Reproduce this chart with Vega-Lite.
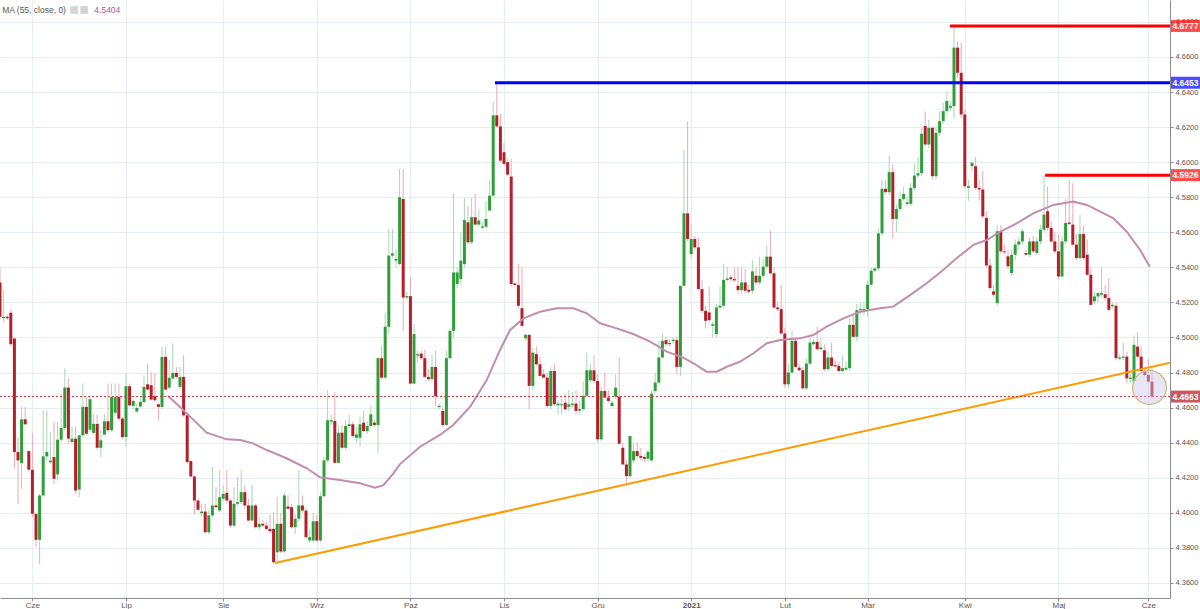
{
"$schema":"https://vega.github.io/schema/vega-lite/v6.json",
"width":1170,"height":598,"padding":{"left":0,"top":0,"right":30,"bottom":11},"autosize":{"type":"none"},"background":"white",
"config":{"font":"Liberation Sans","view":{"stroke":null},"axis":{"labelOverlap":false,"labelBound":false,"labelFlush":false}},
"datasets":{
"candles":[
{"i":0,"o":4.5314,"h":4.5404,"l":4.5109,"c":4.5118},
{"i":1,"o":4.511,"h":4.527,"l":4.509,"c":4.5118},
{"i":2,"o":4.5118,"h":4.513,"l":4.51,"c":4.511},
{"i":3,"o":4.5141,"h":4.516,"l":4.495,"c":4.4962},
{"i":4,"o":4.4994,"h":4.5,"l":4.4251,"c":4.4347},
{"i":5,"o":4.4347,"h":4.4432,"l":4.4051,"c":4.4299},
{"i":6,"o":4.4284,"h":4.4604,"l":4.4136,"c":4.4533},
{"i":7,"o":4.4533,"h":4.4604,"l":4.45,"c":4.4505},
{"i":8,"o":4.4352,"h":4.4356,"l":4.424,"c":4.4246},
{"i":9,"o":4.4246,"h":4.4455,"l":4.3975,"c":4.3994},
{"i":10,"o":4.3994,"h":4.4,"l":4.3804,"c":4.3846},
{"i":11,"o":4.3846,"h":4.4108,"l":4.3708,"c":4.4099},
{"i":12,"o":4.4099,"h":4.4585,"l":4.409,"c":4.4322},
{"i":13,"o":4.4322,"h":4.4585,"l":4.43,"c":4.4347},
{"i":14,"o":4.4288,"h":4.4461,"l":4.428,"c":4.4298},
{"i":15,"o":4.4318,"h":4.4518,"l":4.4165,"c":4.4194},
{"i":16,"o":4.4219,"h":4.4518,"l":4.4185,"c":4.4417},
{"i":17,"o":4.4417,"h":4.468,"l":4.44,"c":4.4484},
{"i":18,"o":4.4484,"h":4.4823,"l":4.447,"c":4.4714},
{"i":19,"o":4.4714,"h":4.4766,"l":4.4395,"c":4.4423},
{"i":20,"o":4.4404,"h":4.449,"l":4.4395,"c":4.4423},
{"i":21,"o":4.4423,"h":4.449,"l":4.4108,"c":4.4127},
{"i":22,"o":4.4133,"h":4.4442,"l":4.4089,"c":4.4442},
{"i":23,"o":4.4442,"h":4.4737,"l":4.443,"c":4.4604},
{"i":24,"o":4.4604,"h":4.4661,"l":4.444,"c":4.4451},
{"i":25,"o":4.4474,"h":4.4665,"l":4.446,"c":4.4648},
{"i":26,"o":4.4456,"h":4.456,"l":4.445,"c":4.4507},
{"i":27,"o":4.4507,"h":4.456,"l":4.436,"c":4.4371},
{"i":28,"o":4.4371,"h":4.447,"l":4.4318,"c":4.4413},
{"i":29,"o":4.4446,"h":4.4564,"l":4.4442,"c":4.4522},
{"i":30,"o":4.4522,"h":4.4737,"l":4.4461,"c":4.4471},
{"i":31,"o":4.4471,"h":4.4737,"l":4.4461,"c":4.466},
{"i":32,"o":4.4571,"h":4.4737,"l":4.4556,"c":4.466},
{"i":33,"o":4.466,"h":4.4737,"l":4.4528,"c":4.4537},
{"i":34,"o":4.4537,"h":4.4547,"l":4.4423,"c":4.4432},
{"i":35,"o":4.4432,"h":4.4795,"l":4.4375,"c":4.4722},
{"i":36,"o":4.4722,"h":4.4737,"l":4.4604,"c":4.4613},
{"i":37,"o":4.461,"h":4.465,"l":4.459,"c":4.4638},
{"i":38,"o":4.4578,"h":4.462,"l":4.457,"c":4.4598},
{"i":39,"o":4.4606,"h":4.466,"l":4.46,"c":4.4632},
{"i":40,"o":4.4632,"h":4.4785,"l":4.4623,"c":4.4718},
{"i":41,"o":4.4733,"h":4.4852,"l":4.4699,"c":4.4703},
{"i":42,"o":4.4728,"h":4.4804,"l":4.4642,"c":4.4646},
{"i":43,"o":4.4665,"h":4.4795,"l":4.4632,"c":4.4642},
{"i":44,"o":4.4619,"h":4.4623,"l":4.4526,"c":4.4604},
{"i":45,"o":4.4604,"h":4.4947,"l":4.4594,"c":4.4889},
{"i":46,"o":4.4889,"h":4.4947,"l":4.4699,"c":4.4703},
{"i":47,"o":4.4714,"h":4.487,"l":4.4709,"c":4.477},
{"i":48,"o":4.4766,"h":4.4966,"l":4.476,"c":4.4798},
{"i":49,"o":4.4798,"h":4.4833,"l":4.4766,"c":4.4775},
{"i":50,"o":4.4718,"h":4.4833,"l":4.4709,"c":4.4775},
{"i":51,"o":4.4775,"h":4.4899,"l":4.4547,"c":4.4556},
{"i":52,"o":4.4556,"h":4.4566,"l":4.428,"c":4.4289},
{"i":53,"o":4.4295,"h":4.4299,"l":4.4204,"c":4.4207},
{"i":54,"o":4.4207,"h":4.4213,"l":4.3994,"c":4.407},
{"i":55,"o":4.407,"h":4.408,"l":4.4013,"c":4.4017},
{"i":56,"o":4.3998,"h":4.405,"l":4.398,"c":4.4007},
{"i":57,"o":4.4007,"h":4.4051,"l":4.3885,"c":4.3889},
{"i":58,"o":4.3889,"h":4.4013,"l":4.388,"c":4.3985},
{"i":59,"o":4.3985,"h":4.4261,"l":4.3975,"c":4.4042},
{"i":60,"o":4.4042,"h":4.4147,"l":4.4023,"c":4.4032},
{"i":61,"o":4.4013,"h":4.4242,"l":4.4004,"c":4.4089},
{"i":62,"o":4.408,"h":4.4156,"l":4.407,"c":4.4108},
{"i":63,"o":4.4114,"h":4.4242,"l":4.406,"c":4.407},
{"i":64,"o":4.407,"h":4.408,"l":4.3918,"c":4.3927},
{"i":65,"o":4.3927,"h":4.4147,"l":4.3918,"c":4.4051},
{"i":66,"o":4.4051,"h":4.4204,"l":4.404,"c":4.4061},
{"i":67,"o":4.4061,"h":4.4242,"l":4.405,"c":4.4118},
{"i":68,"o":4.4118,"h":4.4156,"l":4.4023,"c":4.4042},
{"i":69,"o":4.4042,"h":4.408,"l":4.395,"c":4.3956},
{"i":70,"o":4.3956,"h":4.416,"l":4.395,"c":4.4042},
{"i":71,"o":4.4042,"h":4.405,"l":4.391,"c":4.3918},
{"i":72,"o":4.3918,"h":4.3975,"l":4.39,"c":4.3937},
{"i":73,"o":4.3937,"h":4.396,"l":4.392,"c":4.3927},
{"i":74,"o":4.3927,"h":4.395,"l":4.39,"c":4.3908},
{"i":75,"o":4.3908,"h":4.399,"l":4.388,"c":4.3895},
{"i":76,"o":4.3908,"h":4.4004,"l":4.3708,"c":4.3718},
{"i":77,"o":4.3775,"h":4.4089,"l":4.3708,"c":4.3937},
{"i":78,"o":4.3937,"h":4.4,"l":4.377,"c":4.3779},
{"i":79,"o":4.3779,"h":4.4118,"l":4.377,"c":4.4099},
{"i":80,"o":4.4036,"h":4.41,"l":4.402,"c":4.4023},
{"i":81,"o":4.4032,"h":4.405,"l":4.391,"c":4.3918},
{"i":82,"o":4.3918,"h":4.399,"l":4.388,"c":4.3966},
{"i":83,"o":4.3966,"h":4.4242,"l":4.395,"c":4.4042},
{"i":84,"o":4.4042,"h":4.41,"l":4.4,"c":4.4013},
{"i":85,"o":4.4013,"h":4.4032,"l":4.385,"c":4.3861},
{"i":86,"o":4.3842,"h":4.39,"l":4.383,"c":4.3861},
{"i":87,"o":4.3842,"h":4.4,"l":4.3832,"c":4.3952},
{"i":88,"o":4.3952,"h":4.399,"l":4.3832,"c":4.3842},
{"i":89,"o":4.3842,"h":4.4118,"l":4.3832,"c":4.4095},
{"i":90,"o":4.4095,"h":4.4318,"l":4.4089,"c":4.4299},
{"i":91,"o":4.4299,"h":4.4699,"l":4.429,"c":4.4528},
{"i":92,"o":4.452,"h":4.456,"l":4.45,"c":4.4528},
{"i":93,"o":4.4524,"h":4.469,"l":4.428,"c":4.4285},
{"i":94,"o":4.4285,"h":4.45,"l":4.428,"c":4.4457},
{"i":95,"o":4.4457,"h":4.45,"l":4.436,"c":4.4371},
{"i":96,"o":4.4371,"h":4.453,"l":4.436,"c":4.4495},
{"i":97,"o":4.4495,"h":4.456,"l":4.448,"c":4.4505},
{"i":98,"o":4.4505,"h":4.452,"l":4.443,"c":4.4438},
{"i":99,"o":4.4428,"h":4.449,"l":4.44,"c":4.4447},
{"i":100,"o":4.4428,"h":4.455,"l":4.438,"c":4.4505},
{"i":101,"o":4.4514,"h":4.458,"l":4.446,"c":4.4466},
{"i":102,"o":4.4466,"h":4.452,"l":4.445,"c":4.4495},
{"i":103,"o":4.4495,"h":4.461,"l":4.449,"c":4.4562},
{"i":104,"o":4.4514,"h":4.453,"l":4.449,"c":4.4501},
{"i":105,"o":4.4501,"h":4.4886,"l":4.4343,"c":4.4882},
{"i":106,"o":4.4882,"h":4.495,"l":4.476,"c":4.4771},
{"i":107,"o":4.4771,"h":4.5143,"l":4.476,"c":4.5061},
{"i":108,"o":4.5061,"h":4.5619,"l":4.502,"c":4.5467},
{"i":109,"o":4.5467,"h":4.5619,"l":4.545,"c":4.548},
{"i":110,"o":4.5438,"h":4.55,"l":4.54,"c":4.5448},
{"i":111,"o":4.5419,"h":4.5962,"l":4.541,"c":4.58},
{"i":112,"o":4.579,"h":4.5962,"l":4.5038,"c":4.5228},
{"i":113,"o":4.5228,"h":4.526,"l":4.521,"c":4.5236},
{"i":114,"o":4.5236,"h":4.5343,"l":4.4733,"c":4.4737},
{"i":115,"o":4.4737,"h":4.5076,"l":4.4733,"c":4.5019},
{"i":116,"o":4.4897,"h":4.4924,"l":4.486,"c":4.4905},
{"i":117,"o":4.4908,"h":4.4924,"l":4.487,"c":4.4882},
{"i":118,"o":4.4882,"h":4.493,"l":4.477,"c":4.4775},
{"i":119,"o":4.4775,"h":4.482,"l":4.475,"c":4.4762},
{"i":120,"o":4.4762,"h":4.49,"l":4.475,"c":4.4832},
{"i":121,"o":4.4832,"h":4.4924,"l":4.461,"c":4.4666},
{"i":122,"o":4.4603,"h":4.462,"l":4.459,"c":4.461},
{"i":123,"o":4.4581,"h":4.46,"l":4.449,"c":4.4501},
{"i":124,"o":4.4501,"h":4.4924,"l":4.4496,"c":4.4882},
{"i":125,"o":4.4882,"h":4.505,"l":4.488,"c":4.5038},
{"i":126,"o":4.5038,"h":4.5819,"l":4.5,"c":4.5371},
{"i":127,"o":4.5305,"h":4.54,"l":4.528,"c":4.5371},
{"i":128,"o":4.5333,"h":4.56,"l":4.53,"c":4.5438},
{"i":129,"o":4.5419,"h":4.5795,"l":4.54,"c":4.567},
{"i":130,"o":4.5657,"h":4.575,"l":4.553,"c":4.5543},
{"i":131,"o":4.5543,"h":4.5795,"l":4.553,"c":4.5686},
{"i":132,"o":4.5686,"h":4.5819,"l":4.564,"c":4.5644},
{"i":133,"o":4.5644,"h":4.573,"l":4.5635,"c":4.5667},
{"i":134,"o":4.5626,"h":4.566,"l":4.562,"c":4.5634},
{"i":135,"o":4.5632,"h":4.578,"l":4.5625,"c":4.5676},
{"i":136,"o":4.5724,"h":4.59,"l":4.572,"c":4.5809},
{"i":137,"o":4.5809,"h":4.6343,"l":4.58,"c":4.6267},
{"i":138,"o":4.6267,"h":4.6453,"l":4.62,"c":4.6204},
{"i":139,"o":4.6204,"h":4.6276,"l":4.6,"c":4.6009},
{"i":140,"o":4.6057,"h":4.611,"l":4.598,"c":4.599},
{"i":141,"o":4.6,"h":4.6019,"l":4.592,"c":4.5929},
{"i":142,"o":4.5918,"h":4.6019,"l":4.529,"c":4.5305},
{"i":143,"o":4.5308,"h":4.5312,"l":4.5295,"c":4.5299},
{"i":144,"o":4.5299,"h":4.5419,"l":4.517,"c":4.5181},
{"i":145,"o":4.5167,"h":4.54,"l":4.506,"c":4.5067},
{"i":146,"o":4.4995,"h":4.502,"l":4.498,"c":4.5015},
{"i":147,"o":4.5015,"h":4.502,"l":4.459,"c":4.4724},
{"i":148,"o":4.4724,"h":4.494,"l":4.47,"c":4.4914},
{"i":149,"o":4.4905,"h":4.495,"l":4.484,"c":4.4847},
{"i":150,"o":4.4847,"h":4.489,"l":4.478,"c":4.4781},
{"i":151,"o":4.479,"h":4.482,"l":4.4765,"c":4.4771},
{"i":152,"o":4.4771,"h":4.48,"l":4.46,"c":4.4609},
{"i":153,"o":4.4609,"h":4.483,"l":4.459,"c":4.4809},
{"i":154,"o":4.4809,"h":4.485,"l":4.461,"c":4.4619},
{"i":155,"o":4.4613,"h":4.464,"l":4.456,"c":4.4623},
{"i":156,"o":4.4613,"h":4.465,"l":4.456,"c":4.4619},
{"i":157,"o":4.4628,"h":4.468,"l":4.4585,"c":4.459},
{"i":158,"o":4.4604,"h":4.47,"l":4.458,"c":4.4619},
{"i":159,"o":4.4614,"h":4.469,"l":4.46,"c":4.4623},
{"i":160,"o":4.4623,"h":4.47,"l":4.456,"c":4.4581},
{"i":161,"o":4.4583,"h":4.464,"l":4.456,"c":4.4592},
{"i":162,"o":4.4592,"h":4.475,"l":4.458,"c":4.4667},
{"i":163,"o":4.4667,"h":4.4914,"l":4.466,"c":4.4813},
{"i":164,"o":4.4756,"h":4.485,"l":4.474,"c":4.4813},
{"i":165,"o":4.4813,"h":4.49,"l":4.474,"c":4.4752},
{"i":166,"o":4.4752,"h":4.479,"l":4.44,"c":4.4419},
{"i":167,"o":4.4419,"h":4.472,"l":4.441,"c":4.4695},
{"i":168,"o":4.4695,"h":4.48,"l":4.465,"c":4.4657},
{"i":169,"o":4.4657,"h":4.47,"l":4.463,"c":4.4638},
{"i":170,"o":4.4609,"h":4.464,"l":4.46,"c":4.4628},
{"i":171,"o":4.4663,"h":4.479,"l":4.465,"c":4.4714},
{"i":172,"o":4.4663,"h":4.4886,"l":4.439,"c":4.4394},
{"i":173,"o":4.4371,"h":4.44,"l":4.427,"c":4.4276},
{"i":174,"o":4.4276,"h":4.43,"l":4.4162,"c":4.4209},
{"i":175,"o":4.4209,"h":4.4438,"l":4.42,"c":4.4438},
{"i":176,"o":4.4299,"h":4.44,"l":4.428,"c":4.4352},
{"i":177,"o":4.4352,"h":4.44,"l":4.431,"c":4.4324},
{"i":178,"o":4.4324,"h":4.437,"l":4.43,"c":4.4314},
{"i":179,"o":4.4318,"h":4.433,"l":4.429,"c":4.4308},
{"i":180,"o":4.4308,"h":4.436,"l":4.429,"c":4.4348},
{"i":181,"o":4.4299,"h":4.47,"l":4.429,"c":4.468},
{"i":182,"o":4.4695,"h":4.48,"l":4.468,"c":4.4743},
{"i":183,"o":4.4743,"h":4.498,"l":4.473,"c":4.4886},
{"i":184,"o":4.4886,"h":4.502,"l":4.488,"c":4.4981},
{"i":185,"o":4.4985,"h":4.5002,"l":4.495,"c":4.4962},
{"i":186,"o":4.4968,"h":4.499,"l":4.495,"c":4.4962},
{"i":187,"o":4.4979,"h":4.5,"l":4.497,"c":4.4987},
{"i":188,"o":4.4985,"h":4.5002,"l":4.479,"c":4.4832},
{"i":189,"o":4.4832,"h":4.5076,"l":4.478,"c":4.5295},
{"i":190,"o":4.5295,"h":4.607,"l":4.529,"c":4.5708},
{"i":191,"o":4.5708,"h":4.6231,"l":4.555,"c":4.5562},
{"i":192,"o":4.5476,"h":4.565,"l":4.545,"c":4.5562},
{"i":193,"o":4.5562,"h":4.558,"l":4.55,"c":4.5514},
{"i":194,"o":4.5514,"h":4.557,"l":4.527,"c":4.5276},
{"i":195,"o":4.5276,"h":4.533,"l":4.514,"c":4.5152},
{"i":196,"o":4.5152,"h":4.518,"l":4.505,"c":4.5095},
{"i":197,"o":4.5143,"h":4.529,"l":4.509,"c":4.5099},
{"i":198,"o":4.5067,"h":4.509,"l":4.5,"c":4.5076},
{"i":199,"o":4.5019,"h":4.519,"l":4.5,"c":4.5171},
{"i":200,"o":4.5171,"h":4.529,"l":4.516,"c":4.5181},
{"i":201,"o":4.5181,"h":4.542,"l":4.517,"c":4.5328},
{"i":202,"o":4.5328,"h":4.54,"l":4.532,"c":4.5336},
{"i":203,"o":4.5343,"h":4.536,"l":4.532,"c":4.5333},
{"i":204,"o":4.5333,"h":4.54,"l":4.532,"c":4.5326},
{"i":205,"o":4.5295,"h":4.54,"l":4.525,"c":4.527},
{"i":206,"o":4.527,"h":4.54,"l":4.525,"c":4.5314},
{"i":207,"o":4.5314,"h":4.539,"l":4.525,"c":4.5267},
{"i":208,"o":4.5272,"h":4.53,"l":4.525,"c":4.5261},
{"i":209,"o":4.5267,"h":4.544,"l":4.525,"c":4.5377},
{"i":210,"o":4.5352,"h":4.54,"l":4.53,"c":4.5314},
{"i":211,"o":4.5314,"h":4.546,"l":4.53,"c":4.5352},
{"i":212,"o":4.5352,"h":4.545,"l":4.534,"c":4.5404},
{"i":213,"o":4.5404,"h":4.552,"l":4.539,"c":4.5461},
{"i":214,"o":4.5461,"h":4.5609,"l":4.536,"c":4.5366},
{"i":215,"o":4.5366,"h":4.54,"l":4.516,"c":4.5171},
{"i":216,"o":4.5171,"h":4.52,"l":4.515,"c":4.5162},
{"i":217,"o":4.5162,"h":4.53,"l":4.502,"c":4.5023},
{"i":218,"o":4.5023,"h":4.5057,"l":4.4714,"c":4.4733},
{"i":219,"o":4.4733,"h":4.485,"l":4.471,"c":4.48},
{"i":220,"o":4.48,"h":4.5038,"l":4.479,"c":4.4981},
{"i":221,"o":4.4981,"h":4.5,"l":4.483,"c":4.4832},
{"i":222,"o":4.4828,"h":4.485,"l":4.481,"c":4.4813},
{"i":223,"o":4.4813,"h":4.483,"l":4.47,"c":4.471},
{"i":224,"o":4.471,"h":4.488,"l":4.47,"c":4.4851},
{"i":225,"o":4.4851,"h":4.5,"l":4.484,"c":4.4971},
{"i":226,"o":4.4962,"h":4.499,"l":4.495,"c":4.4975},
{"i":227,"o":4.4975,"h":4.506,"l":4.493,"c":4.4933},
{"i":228,"o":4.4933,"h":4.5,"l":4.492,"c":4.4943},
{"i":229,"o":4.4927,"h":4.496,"l":4.481,"c":4.4819},
{"i":230,"o":4.4819,"h":4.492,"l":4.481,"c":4.4886},
{"i":231,"o":4.4886,"h":4.497,"l":4.483,"c":4.4838},
{"i":232,"o":4.4842,"h":4.487,"l":4.483,"c":4.4835},
{"i":233,"o":4.4838,"h":4.486,"l":4.48,"c":4.4809},
{"i":234,"o":4.4809,"h":4.49,"l":4.48,"c":4.4825},
{"i":235,"o":4.4817,"h":4.486,"l":4.481,"c":4.4827},
{"i":236,"o":4.4825,"h":4.511,"l":4.481,"c":4.5072},
{"i":237,"o":4.5072,"h":4.513,"l":4.5,"c":4.5004},
{"i":238,"o":4.5004,"h":4.519,"l":4.498,"c":4.5156},
{"i":239,"o":4.5156,"h":4.52,"l":4.513,"c":4.5162},
{"i":240,"o":4.5152,"h":4.52,"l":4.513,"c":4.5162},
{"i":241,"o":4.5162,"h":4.532,"l":4.512,"c":4.5301},
{"i":242,"o":4.5301,"h":4.54,"l":4.529,"c":4.5381},
{"i":243,"o":4.5381,"h":4.54,"l":4.537,"c":4.5394},
{"i":244,"o":4.5394,"h":4.562,"l":4.538,"c":4.5594},
{"i":245,"o":4.5594,"h":4.59,"l":4.558,"c":4.5848},
{"i":246,"o":4.5848,"h":4.59,"l":4.582,"c":4.5829},
{"i":247,"o":4.5829,"h":4.6038,"l":4.581,"c":4.5943},
{"i":248,"o":4.5943,"h":4.599,"l":4.5562,"c":4.5676},
{"i":249,"o":4.5676,"h":4.576,"l":4.56,"c":4.5733},
{"i":250,"o":4.5733,"h":4.583,"l":4.572,"c":4.579},
{"i":251,"o":4.579,"h":4.586,"l":4.578,"c":4.5819},
{"i":252,"o":4.5762,"h":4.58,"l":4.575,"c":4.5771},
{"i":253,"o":4.5762,"h":4.588,"l":4.575,"c":4.5853},
{"i":254,"o":4.5853,"h":4.599,"l":4.584,"c":4.5924},
{"i":255,"o":4.5924,"h":4.603,"l":4.591,"c":4.5937},
{"i":256,"o":4.5937,"h":4.62,"l":4.592,"c":4.6162},
{"i":257,"o":4.6206,"h":4.629,"l":4.609,"c":4.6101},
{"i":258,"o":4.6101,"h":4.624,"l":4.608,"c":4.6196},
{"i":259,"o":4.6196,"h":4.62,"l":4.59,"c":4.592},
{"i":260,"o":4.592,"h":4.62,"l":4.59,"c":4.6168},
{"i":261,"o":4.6168,"h":4.629,"l":4.615,"c":4.6234},
{"i":262,"o":4.6234,"h":4.634,"l":4.622,"c":4.6291},
{"i":263,"o":4.6291,"h":4.64,"l":4.628,"c":4.6349},
{"i":264,"o":4.631,"h":4.635,"l":4.629,"c":4.632},
{"i":265,"o":4.632,"h":4.6777,"l":4.625,"c":4.6653},
{"i":266,"o":4.6653,"h":4.669,"l":4.648,"c":4.651},
{"i":267,"o":4.651,"h":4.6682,"l":4.625,"c":4.6272},
{"i":268,"o":4.6272,"h":4.63,"l":4.585,"c":4.5863},
{"i":269,"o":4.5853,"h":4.59,"l":4.578,"c":4.5863},
{"i":270,"o":4.5977,"h":4.6,"l":4.595,"c":4.5996},
{"i":271,"o":4.5977,"h":4.603,"l":4.584,"c":4.5853},
{"i":272,"o":4.5853,"h":4.59,"l":4.578,"c":4.5844},
{"i":273,"o":4.5844,"h":4.595,"l":4.568,"c":4.5691},
{"i":274,"o":4.5682,"h":4.572,"l":4.54,"c":4.5411},
{"i":275,"o":4.5411,"h":4.545,"l":4.527,"c":4.5282},
{"i":276,"o":4.5263,"h":4.53,"l":4.523,"c":4.5244},
{"i":277,"o":4.5196,"h":4.564,"l":4.518,"c":4.5606},
{"i":278,"o":4.5606,"h":4.564,"l":4.548,"c":4.5491},
{"i":279,"o":4.5491,"h":4.553,"l":4.547,"c":4.5486},
{"i":280,"o":4.5463,"h":4.55,"l":4.539,"c":4.5406},
{"i":281,"o":4.5367,"h":4.55,"l":4.535,"c":4.5472},
{"i":282,"o":4.5472,"h":4.556,"l":4.544,"c":4.553},
{"i":283,"o":4.553,"h":4.557,"l":4.55,"c":4.5548},
{"i":284,"o":4.5548,"h":4.562,"l":4.553,"c":4.5606},
{"i":285,"o":4.5482,"h":4.55,"l":4.547,"c":4.5472},
{"i":286,"o":4.5472,"h":4.557,"l":4.546,"c":4.5548},
{"i":287,"o":4.5548,"h":4.558,"l":4.548,"c":4.5491},
{"i":288,"o":4.5482,"h":4.557,"l":4.547,"c":4.5548},
{"i":289,"o":4.5548,"h":4.564,"l":4.553,"c":4.5615},
{"i":290,"o":4.5615,"h":4.5926,"l":4.56,"c":4.5701},
{"i":291,"o":4.572,"h":4.586,"l":4.561,"c":4.5625},
{"i":292,"o":4.5625,"h":4.566,"l":4.554,"c":4.5548},
{"i":293,"o":4.5548,"h":4.56,"l":4.548,"c":4.5491},
{"i":294,"o":4.5491,"h":4.559,"l":4.533,"c":4.5348},
{"i":295,"o":4.5348,"h":4.558,"l":4.534,"c":4.5548},
{"i":296,"o":4.5548,"h":4.579,"l":4.553,"c":4.5653},
{"i":297,"o":4.5656,"h":4.59,"l":4.564,"c":4.5648},
{"i":298,"o":4.5644,"h":4.588,"l":4.552,"c":4.553},
{"i":299,"o":4.553,"h":4.559,"l":4.544,"c":4.5453},
{"i":300,"o":4.5453,"h":4.57,"l":4.544,"c":4.559},
{"i":301,"o":4.559,"h":4.564,"l":4.544,"c":4.5453},
{"i":302,"o":4.5472,"h":4.556,"l":4.535,"c":4.5358},
{"i":303,"o":4.5358,"h":4.54,"l":4.518,"c":4.5186},
{"i":304,"o":4.5206,"h":4.526,"l":4.519,"c":4.5234},
{"i":305,"o":4.5234,"h":4.526,"l":4.52,"c":4.5253},
{"i":306,"o":4.5244,"h":4.54,"l":4.523,"c":4.5253},
{"i":307,"o":4.5247,"h":4.53,"l":4.521,"c":4.5225},
{"i":308,"o":4.5225,"h":4.534,"l":4.515,"c":4.5158},
{"i":309,"o":4.5178,"h":4.52,"l":4.517,"c":4.5186},
{"i":310,"o":4.5181,"h":4.52,"l":4.487,"c":4.4882},
{"i":311,"o":4.4879,"h":4.49,"l":4.487,"c":4.4886},
{"i":312,"o":4.4884,"h":4.497,"l":4.487,"c":4.4891},
{"i":313,"o":4.4891,"h":4.492,"l":4.474,"c":4.4767},
{"i":314,"o":4.4764,"h":4.48,"l":4.474,"c":4.4771},
{"i":315,"o":4.4752,"h":4.501,"l":4.474,"c":4.4958},
{"i":316,"o":4.4948,"h":4.503,"l":4.488,"c":4.4891},
{"i":317,"o":4.4891,"h":4.495,"l":4.48,"c":4.4809},
{"i":318,"o":4.4805,"h":4.483,"l":4.478,"c":4.4786},
{"i":319,"o":4.4786,"h":4.488,"l":4.474,"c":4.4748},
{"i":320,"o":4.4748,"h":4.483,"l":4.465,"c":4.4663}
],
"ma":[
{"i":46.7,"v":4.4666},{"i":51.9,"v":4.4567},{"i":57.4,"v":4.4457},{"i":63,"v":4.4419},{"i":66.7,"v":4.4415},{"i":70.3,"v":4.4396},{"i":74.1,"v":4.4358},{"i":79.6,"v":4.4311},{"i":85.2,"v":4.4254},{"i":88.9,"v":4.4202},{"i":94.4,"v":4.4187},{"i":100,"v":4.4168},{"i":104.2,"v":4.4143},{"i":106.5,"v":4.4158},{"i":109.3,"v":4.4225},{"i":111.1,"v":4.4278},{"i":116.7,"v":4.4377},{"i":122.2,"v":4.4444},{"i":125.9,"v":4.4501},{"i":130.6,"v":4.4605},{"i":135.2,"v":4.4757},{"i":138.9,"v":4.4929},{"i":141.7,"v":4.5043},{"i":145.4,"v":4.5109},{"i":150,"v":4.5147},{"i":154.6,"v":4.5167},{"i":159.3,"v":4.5167},{"i":163,"v":4.5138},{"i":166.7,"v":4.5081},{"i":171.3,"v":4.5052},{"i":175.9,"v":4.502},{"i":180.6,"v":4.4976},{"i":185.2,"v":4.4919},{"i":189.8,"v":4.4885},{"i":192.6,"v":4.4853},{"i":196.3,"v":4.4805},{"i":199.1,"v":4.4805},{"i":201.9,"v":4.4833},{"i":205.6,"v":4.4862},{"i":209.3,"v":4.491},{"i":213,"v":4.4967},{"i":216.7,"v":4.4986},{"i":222.2,"v":4.4995},{"i":225.9,"v":4.5014},{"i":229.6,"v":4.5062},{"i":234.3,"v":4.5109},{"i":238.9,"v":4.5147},{"i":244.4,"v":4.5167},{"i":248.1,"v":4.5176},{"i":252.8,"v":4.5242},{"i":257.4,"v":4.5309},{"i":262,"v":4.5385},{"i":265.7,"v":4.5452},{"i":270.4,"v":4.5528},{"i":274.1,"v":4.5556},{"i":277.8,"v":4.5603},{"i":282.4,"v":4.5651},{"i":287,"v":4.5708},{"i":292.6,"v":4.5756},{"i":298.1,"v":4.5775},{"i":301.9,"v":4.5756},{"i":305.6,"v":4.5718},{"i":309.3,"v":4.568},{"i":313,"v":4.5603},{"i":316.7,"v":4.5499},{"i":319.4,"v":4.5404}
],
"trend":[{"i":76.4,"p":4.3714},{"i":325,"p":4.4856}],
"levels":[{"i":137.5,"p":4.6453,"t":"4.6453"},{"i":263.9,"p":4.6777,"t":"4.6777"},{"i":290.3,"p":4.5926,"t":"4.5926"}],
"tags":[{"p":4.6777,"t":"4.6777"},{"p":4.6453,"t":"4.6453"},{"p":4.5926,"t":"4.5926"},{"p":4.4663,"t":"4.4663"}]
},
"layer":[
{"data":{"name":"candles"},"mark":{"type":"rule","strokeWidth":1},
 "encoding":{
  "x":{"field":"i","type":"quantitative","title":null,"scale":{"domain":[0,325],"nice":false,"zero":false,"padding":0},
   "axis":{"values":[9,35,62,88,114,140,166,192,218,241,268,294,319],
    "labelExpr":"['Cze','Lip','Sie','Wrz','Paź','Lis','Gru','2021','Lut','Mar','Kwi','Maj','Cze'][indexof([9,35,62,88,114,140,166,192,218,241,268,294,319], datum.value)]",
    "grid":true,"gridColor":"#e6eef4","domainColor":"#8c8c8c","tickColor":"#8c8c8c","tickSize":3,"labelPadding":0,"labelFontSize":8,"labelColor":"#555555","labelOverlap":false,
    "labelFontWeight":{"condition":{"test":"datum.value == 192","value":"bold"},"value":"normal"}}},
  "y":{"field":"l","type":"quantitative","title":null,"scale":{"domain":[4.3514,4.6925],"nice":false,"zero":false,"padding":0},
   "axis":{"orient":"right","values":[4.36,4.38,4.4,4.42,4.44,4.46,4.48,4.5,4.52,4.54,4.56,4.58,4.6,4.62,4.64,4.66,4.68],"tickCount":17,"format":".4f",
    "grid":true,"gridColor":"#e6eef4","domainColor":"#8c8c8c","tickColor":"#8c8c8c","tickSize":3,"labelPadding":2,"labelFontSize":7.5,"labelColor":"#555555","labelOverlap":false,"labelBound":false}},
  "y2":{"field":"h"},
  "color":{"condition":{"test":"datum.c >= datum.o","value":"#a6d8b2"},"value":"#f2a9b1"}
 }},
{"data":{"name":"candles"},"mark":{"type":"bar","width":3},
 "encoding":{
  "x":{"field":"i","type":"quantitative","title":null},
  "y":{"field":"o","type":"quantitative","title":null},
  "y2":{"field":"c"},
  "color":{"condition":{"test":"datum.c >= datum.o","value":"#2f9e3a"},"value":"#b3202a"}
 }},
{"data":{"name":"ma"},"mark":{"type":"line","color":"#c48cab","strokeWidth":2},
 "encoding":{"x":{"field":"i","type":"quantitative","title":null},"y":{"field":"v","type":"quantitative","title":null}}},
{"data":{"name":"trend"},"mark":{"type":"line","color":"#ff9b00","strokeWidth":2},
 "encoding":{"x":{"field":"i","type":"quantitative","title":null},"y":{"field":"p","type":"quantitative","title":null}}},
{"data":{"name":"levels"},"mark":{"type":"rule","strokeWidth":3},
 "encoding":{"x":{"field":"i","type":"quantitative","title":null},"x2":{"datum":325},
  "y":{"field":"p","type":"quantitative","title":null},
  "color":{"field":"t","type":"nominal","legend":null,"scale":{"domain":["4.6777","4.6453","4.5926","4.4663"],"range":["#ff0000","#0000ff","#ff0000","#b5121b"]}}}},
{"data":{"values":[{}]},"mark":{"type":"rule","color":"#d0343c","strokeWidth":1,"strokeDash":[2,2]},
 "encoding":{"y":{"datum":4.4663,"type":"quantitative"}}},
{"data":{"values":[{"i":319.3,"p":4.4715}]},"mark":{"type":"point","filled":false,"shape":"circle","size":1150,"fill":"#cdc7ec","fillOpacity":0.45,"stroke":"#c8b678","strokeWidth":1.2,"opacity":1},
 "encoding":{"x":{"field":"i","type":"quantitative","title":null},"y":{"field":"p","type":"quantitative","title":null}}},
{"data":{"name":"tags"},"mark":{"type":"tick","orient":"vertical","thickness":29,"size":12},
 "encoding":{"x":{"datum":329.3,"type":"quantitative"},"y":{"field":"p","type":"quantitative","title":null},
  "color":{"field":"t","type":"nominal","legend":null}}},
{"data":{"name":"tags"},"mark":{"type":"text","color":"white","fontWeight":"bold","fontSize":8.5,"align":"center","baseline":"middle"},
 "encoding":{"x":{"datum":329.3,"type":"quantitative"},"y":{"field":"p","type":"quantitative","title":null},"text":{"field":"t"}}},
{"data":{"values":[{"i":0.6,"p":4.6868,"t":"MA (55, close, 0)"}]},"mark":{"type":"text","color":"#555555","fontSize":8.5,"align":"left","baseline":"middle"},
 "encoding":{"x":{"field":"i","type":"quantitative","title":null},"y":{"field":"p","type":"quantitative","title":null},"text":{"field":"t"}}},
{"data":{"values":[{"i":20.6,"p":4.6868},{"i":23.4,"p":4.6868}]},"mark":{"type":"point","shape":"square","filled":true,"size":60,"color":"#d4d4d4","opacity":1},
 "encoding":{"x":{"field":"i","type":"quantitative","title":null},"y":{"field":"p","type":"quantitative","title":null}}},
{"data":{"values":[{"i":26.2,"p":4.6868,"t":"4.5404"}]},"mark":{"type":"text","color":"#b5558c","fontSize":8.5,"align":"left","baseline":"middle"},
 "encoding":{"x":{"field":"i","type":"quantitative","title":null},"y":{"field":"p","type":"quantitative","title":null},"text":{"field":"t"}}}
]
}
